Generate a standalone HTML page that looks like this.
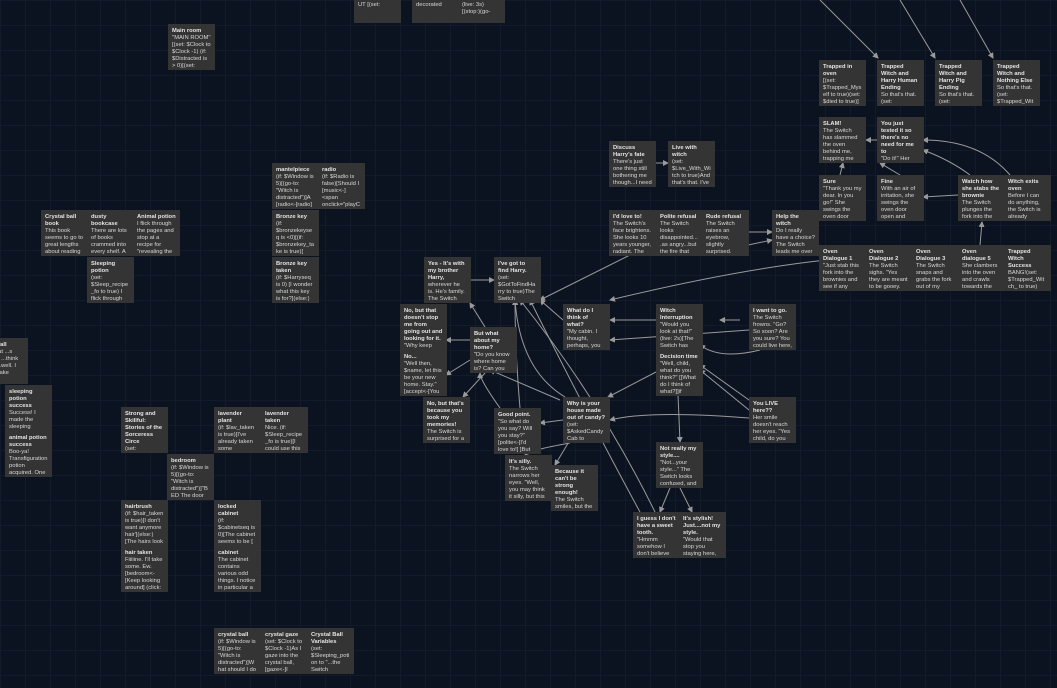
<!DOCTYPE html>
<html><head><meta charset="utf-8"><style>
body{margin:0;width:1057px;height:688px;overflow:hidden;background:#0c1320;
background-image:linear-gradient(#111b2b 1px,transparent 1px),linear-gradient(90deg,#111b2b 1px,transparent 1px);background-size:25px 25px;
font-family:"Liberation Sans",sans-serif;position:relative}
.b{position:absolute;width:39px;height:41px;padding:4px 4px 1px 4px;background:#353434;color:#d8d8d8;font-size:5.8px;line-height:7.1px;overflow:hidden;white-space:normal;overflow-wrap:anywhere}
.b b{display:block;font-weight:bold;color:#e4e4e4}
svg{position:absolute;left:0;top:0}
</style></head><body>
<svg width="1057" height="688" fill="none" stroke="#9a9a9a" stroke-width="1">
<defs><marker id="a" markerWidth="6" markerHeight="6" refX="5" refY="3" orient="auto"><path d="M0,0L6,3L0,6z" fill="#9a9a9a" stroke="none"/></marker></defs>
<g marker-end="url(#a)">
<path d="M820,0 L878,58"/><path d="M900,0 L935,58"/><path d="M960,0 L993,58"/>
<path d="M655,163 L668,163"/>
<path d="M748,232 L772,232"/><path d="M748,245 L772,240"/>
<path d="M840,175 L843,163"/><path d="M900,175 L880,163"/>
<path d="M958,195 L923,197"/><path d="M970,175 Q950,160 923,150"/><path d="M1010,175 Q980,140 923,140"/>
<path d="M877,140 L866,140"/><path d="M980,245 L982,222"/>
<path d="M470,280 L494,280"/>
<path d="M650,245 Q580,280 540,300"/><path d="M563,320 L540,300"/>
<path d="M656,320 L610,320"/><path d="M749,330 L610,340"/>
<path d="M470,340 L446,340"/><path d="M485,327 L470,303"/>
<path d="M470,360 L446,375"/><path d="M485,373 L463,397"/>
<path d="M656,372 L608,397"/><path d="M749,400 L700,365"/><path d="M749,410 L700,370"/>
<path d="M749,418 Q650,410 610,420"/>
<path d="M563,420 L540,423"/><path d="M570,440 L555,465"/><path d="M570,443 Q530,450 525,455"/>
<path d="M678,395 L680,442"/>
<path d="M670,488 L660,512"/><path d="M680,488 L692,512"/>
<path d="M640,512 Q590,420 530,300"/><path d="M655,512 Q600,400 520,300"/>
<path d="M565,397 Q520,370 515,300"/><path d="M520,408 Q515,350 515,300"/>
<path d="M500,408 Q480,380 480,373"/><path d="M560,400 L490,370"/>
<path d="M740,320 L720,320"/><path d="M760,350 Q720,360 700,345"/>
<path d="M1004,270 Q900,230 610,300"/>
</g></svg>
<div class="b" style="left:168px;top:24px"><b>Main room</b> ''MAIN ROOM'' [(set: $Clock to $Clock -1) (if: $Distracted is &gt; 0)[(set:</div>
<div class="b" style="left:354px;top:-23px">... (go-to: "Witch is distracted")]''OUT [(set:</div>
<div class="b" style="left:412px;top:-23px">... appears to consist of individually-decorated</div>
<div class="b" style="left:458px;top:-23px">... seconds, I start to feel a bit drowsy... (live: 3s)[(stop:)(go-</div>
<div class="b" style="left:41px;top:210px"><b>Crystal ball book</b> This book seems to go to great lengths about reading</div>
<div class="b" style="left:87px;top:210px"><b>dusty bookcase</b> There are lots of books crammed into every shelf. A</div>
<div class="b" style="left:133px;top:210px"><b>Animal potion</b> I flick through the pages and stop at a recipe for "revealing the animal they</div>
<div class="b" style="left:87px;top:257px"><b>Sleeping potion</b> (set: $Sleep_recipe_fo to true) I flick through the</div>
<div class="b" style="left:272px;top:163px"><b>mantelpiece</b> (if: $Window is 5)[(go-to: "Witch is distracted")]A [radio&lt;-[radio]</div>
<div class="b" style="left:318px;top:163px"><b>radio</b> (if: $Radio is false)[Should I [music&lt;-]&lt;span onclick="playClas some</div>
<div class="b" style="left:272px;top:210px"><b>Bronze key</b> (if: $bronzekeyseq is &lt;0)[(if: $bronzekey_take is true)[ There's</div>
<div class="b" style="left:272px;top:257px"><b>Bronze key taken</b> (if: $Harryseq is 0) [I wonder what this key is for?](else:)</div>
<div class="b" style="left:-19px;top:338px"><b>...en fall</b> ... That ...s bad, I ...think that ...well. I ...d make</div>
<div class="b" style="left:5px;top:385px"><b>sleeping potion success</b> Success! I made the sleeping potion. Sweet dreams to</div>
<div class="b" style="left:5px;top:431px"><b>animal potion success</b> Boo-ya! Transfiguration potion acquired. One</div>
<div class="b" style="left:121px;top:407px"><b>Strong and Skillful: Stories of the Sorceress Circe</b> (set: $Circebook_read</div>
<div class="b" style="left:214px;top:407px"><b>lavender plant</b> (if: $lav_taken is true)[I've already taken some lavender, I don't need</div>
<div class="b" style="left:261px;top:407px"><b>lavender taken</b> Nice. (if: $Sleep_recipe_fo is true)[I could use this to making</div>
<div class="b" style="left:167px;top:454px"><b>bedroom</b> (if: $Window is 5)[(go-to: "Witch is distracted")]''BED The door leads</div>
<div class="b" style="left:121px;top:500px"><b>hairbrush</b> (if: $hair_taken is true)[I don't want anymore hair'](else:)[The hairs look like a</div>
<div class="b" style="left:121px;top:546px"><b>hair taken</b> Fiiiiine. I'll take some. Ew. [bedroom&lt;- [Keep looking around] (click: ?</div>
<div class="b" style="left:214px;top:500px"><b>locked cabinet</b> (if: $cabinetseq is 0)[The cabinet seems to be [ (unlock&lt; [locked]](click: ?</div>
<div class="b" style="left:214px;top:546px"><b>cabinet</b> The cabinet contains various odd things. I notice in particular a</div>
<div class="b" style="left:214px;top:628px"><b>crystal ball</b> (if: $Window is 5)[(go-to: "Witch is distracted")]What should I do with</div>
<div class="b" style="left:261px;top:628px"><b>crystal gaze</b> (set: $Clock to $Clock -1)As I gaze into the crystal ball, [gaze&lt;-]I see...]</div>
<div class="b" style="left:307px;top:628px"><b>Crystal Ball Variables</b> (set: $Sleeping_potion to "...the Switch opening the</div>
<div class="b" style="left:609px;top:141px"><b>Discuss Harry's fate</b> There's just one thing still bothering me though...I need</div>
<div class="b" style="left:668px;top:141px"><b>Live with witch</b> (set: $Live_With_Witch to true)And that's that. I've</div>
<div class="b" style="left:609px;top:210px"><b>I'd love to!</b> The Switch's face brightens. She looks 10 years younger, radiant. The</div>
<div class="b" style="left:656px;top:210px"><b>Polite refusal</b> The Switch looks disappointed....as angry...but the fire that burns</div>
<div class="b" style="left:702px;top:210px"><b>Rude refusal</b> The Switch raises an eyebrow, slightly surprised.</div>
<div class="b" style="left:772px;top:210px"><b>Help the witch</b> Do I really have a choice? The Switch leads me over to the oven.. "I always</div>
<div class="b" style="left:819px;top:60px"><b>Trapped in oven</b> [(set: $Trapped_Myself to true)(set: $died to true)]</div>
<div class="b" style="left:877px;top:60px"><b>Trapped Witch and Harry Human Ending</b> So that's that. (set: $Trapped_Witch_</div>
<div class="b" style="left:935px;top:60px"><b>Trapped Witch and Harry Pig Ending</b> So that's that. (set: $Trapped_Witch_</div>
<div class="b" style="left:993px;top:60px"><b>Trapped Witch and Nothing Else</b> So that's that. (set: $Trapped_Witch_</div>
<div class="b" style="left:819px;top:117px"><b>SLAM!</b> The Switch has slammed the oven behind me, trapping me inside. As</div>
<div class="b" style="left:877px;top:117px"><b>You just tested it so there's no need for me to</b> "Do it!" Her face has contorted into a</div>
<div class="b" style="left:819px;top:175px"><b>Sure</b> "Thank you my dear. In you go!" She swings the oven door open and</div>
<div class="b" style="left:877px;top:175px"><b>Fine</b> With an air of irritation, she swings the oven door open and gestures for me</div>
<div class="b" style="left:958px;top:175px"><b>Watch how she stabs the brownie</b> The Switch plunges the fork into the</div>
<div class="b" style="left:1004px;top:175px"><b>Witch exits oven</b> Before I can do anything, the Switch is already</div>
<div class="b" style="left:819px;top:245px"><b>Oven Dialogue 1</b> "Just stab this fork into the brownies and see if any batter</div>
<div class="b" style="left:865px;top:245px"><b>Oven Dialogue 2</b> The Switch sighs. "Yes they are meant to be gooey. But</div>
<div class="b" style="left:912px;top:245px"><b>Oven Dialogue 3</b> The Switch snaps and grabs the fork out of my hand.</div>
<div class="b" style="left:958px;top:245px"><b>Oven dialogue 5</b> She clambers into the oven and crawls towards the</div>
<div class="b" style="left:1004px;top:245px"><b>Trapped Witch Success</b> BANG!(set: $Trapped_Witch_ to true)(set: $win to true) I</div>
<div class="b" style="left:424px;top:257px"><b>Yes - It's with my brother Harry,</b> wherever he is. He's family. The Switch</div>
<div class="b" style="left:494px;top:257px"><b>I've got to find Harry.</b> (set: $GotToFindHarry to true)The Switch narrows</div>
<div class="b" style="left:400px;top:304px"><b>No, but that doesn't stop me from going out and looking for it.</b> "Why keep</div>
<div class="b" style="left:470px;top:327px"><b>But what about my home?</b> "Do you know where home is? Can you</div>
<div class="b" style="left:563px;top:304px"><b>What do I think of what?</b> "My cabin. I thought, perhaps, you would consider</div>
<div class="b" style="left:656px;top:304px"><b>Witch Interruption</b> "Would you look at that!" (live: 2s)[The Switch has</div>
<div class="b" style="left:749px;top:304px"><b>I want to go.</b> The Switch frowns. "Go? So soon? Are you sure? You could live here, you</div>
<div class="b" style="left:400px;top:350px"><b>No...</b> "Well then, $name, let this be your new home. Stay." [accept&lt;-[You</div>
<div class="b" style="left:656px;top:350px"><b>Decision time</b> "Well, child, what do you think?" [[What do I think of what?]]if</div>
<div class="b" style="left:423px;top:397px"><b>No, but that's because you took my memories!</b> The Switch is surprised for a</div>
<div class="b" style="left:494px;top:408px"><b>Good point.</b> "So what do you say? Will you stay?" [polite&lt;-[I'd love to!] ]But what</div>
<div class="b" style="left:563px;top:397px"><b>Why is your house made out of candy?</b> (set: $AskedCandyCab to true)"Why</div>
<div class="b" style="left:749px;top:397px"><b>You LIVE here??</b> Her smile doesn't reach her eyes. "Yes child, do you</div>
<div class="b" style="left:505px;top:455px"><b>It's silly.</b> The Switch narrows her eyes. "Well, you may think it silly, but this is</div>
<div class="b" style="left:551px;top:465px"><b>Because it can't be strong enough!</b> The Switch smiles, but the smile does not</div>
<div class="b" style="left:656px;top:442px"><b>Not really my style....</b> "Not...your style..." The Switch looks confused, and</div>
<div class="b" style="left:633px;top:512px"><b>I guess I don't have a sweet tooth.</b> "Hmmm somehow I don't believe</div>
<div class="b" style="left:679px;top:512px"><b>It's stylish! Just....not my style.</b> "Would that stop you staying here,</div>
</body></html>
